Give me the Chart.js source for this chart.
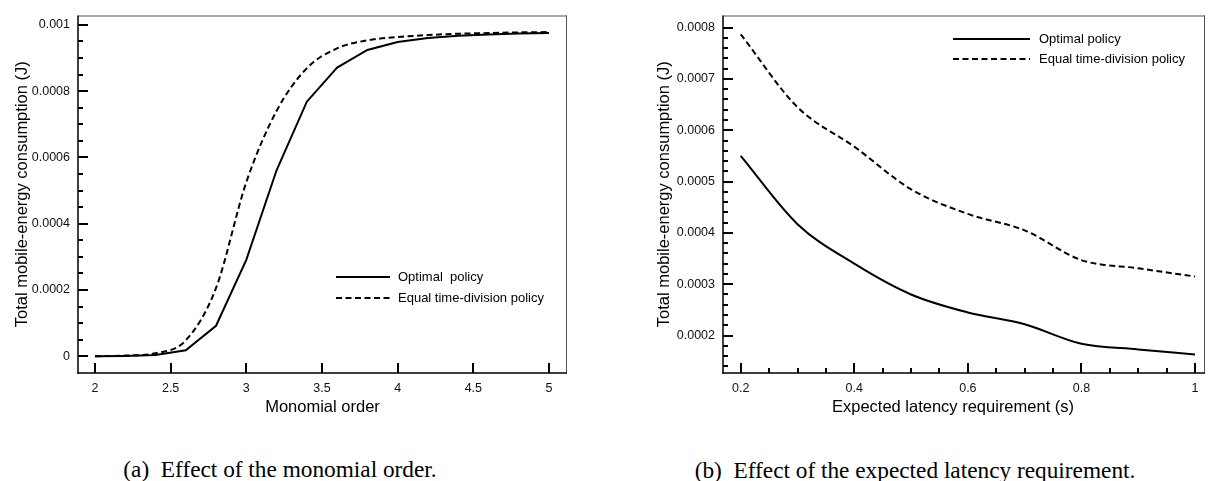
<!DOCTYPE html>
<html>
<head>
<meta charset="utf-8">
<script src="https://cdn.jsdelivr.net/npm/chart.js@4.4.1/dist/chart.umd.min.js"></script>
<style>
  body { margin: 0; background: #fff; }
  #wrap { position: relative; width: 1208px; height: 481px; overflow: hidden; background: #fff; }
  canvas { position: absolute; top: 0; }
  .cap { position: absolute; font-family: "Liberation Serif", "Times New Roman", serif; font-size: 23.3px; color: #000; white-space: pre; transform: translate(-50%, -50%); }
</style>
</head>
<body>
<div id="wrap">
  <canvas id="chartA" width="620" height="430" style="left:0px"></canvas>
  <canvas id="chartB" width="588" height="430" style="left:620px"></canvas>
  <div class="cap" style="left:280px; top:469px">(a)  Effect of the monomial order.</div>
  <div class="cap" style="left:915px; top:470px">(b)  Effect of the expected latency requirement.</div>
</div>
<script>
// --- Datos (a): orden del monomio ---
const ordenMonomio = [2, 2.2, 2.4, 2.6, 2.8, 3.0, 3.2, 3.4, 3.6, 3.8, 4.0, 4.2, 4.4, 4.6, 4.8, 5.0];
const optimaA = [0, 0.000001, 0.000004, 0.000018, 0.000092, 0.000291, 0.000561, 0.000768, 0.000871, 0.000924, 0.000948, 0.00096, 0.000967, 0.000971, 0.000974, 0.000975];
const igualA  = [0, 0.000002, 0.000009, 0.000048, 0.000206, 0.000525, 0.00074, 0.000869, 0.000929, 0.000953, 0.000963, 0.000969, 0.000973, 0.000975, 0.000977, 0.000978];
const xTicksA = [2, 2.5, 3, 3.5, 4, 4.5, 5];
const xLabelsA = ['2', '2.5', '3', '3.5', '4', '4.5', '5'];
const yTicksA = [0, 0.0002, 0.0004, 0.0006, 0.0008, 0.001];
const yLabelsA = ['0', '0.0002', '0.0004', '0.0006', '0.0008', '0.001'];

// --- Datos (b): latencia esperada ---
const latencia = [0.2, 0.3, 0.4, 0.5, 0.6, 0.7, 0.8, 0.9, 1.0];
const optimaB = [0.00055, 0.000417, 0.00034, 0.00028, 0.000245, 0.000222, 0.000184, 0.000173, 0.000163];
const igualB  = [0.000787, 0.000645, 0.000568, 0.000485, 0.000437, 0.000405, 0.000347, 0.000331, 0.000315];
const xTicksB = [0.2, 0.4, 0.6, 0.8, 1];
const xLabelsB = ['0.2', '0.4', '0.6', '0.8', '1'];
const yTicksB = [0.0002, 0.0003, 0.0004, 0.0005, 0.0006, 0.0007, 0.0008];
const yLabelsB = ['0.0002', '0.0003', '0.0004', '0.0005', '0.0006', '0.0007', '0.0008'];

const yTitulo = 'Total mobile-energy consumption (J)';
const FUENTE = "'Liberation Sans', Arial, Helvetica, sans-serif";

// Genera ticks menores entre min y max con un paso dado
function ticksMenores(min, max, paso) {
    const out = [];
    for (let v = min; v <= max + paso / 1000; v += paso) out.push(+v.toFixed(8));
    return out;
}

function esMayor(valor, mayores) {
    return mayores.some(m => Math.abs(m - valor) < 1e-9);
}

function etiqueta(valor, mayores, etiquetas) {
    const i = mayores.findIndex(m => Math.abs(m - valor) < 1e-9);
    return i >= 0 ? etiquetas[i] : '';
}

// Plugin: caja, ticks hacia adentro, títulos de ejes y leyenda
const marco = {
    id: 'marco',
    afterDraw(chart, args, o) {
        const { ctx, chartArea: a, scales } = chart;
        ctx.save();
        ctx.setLineDash([]);
        // borde superior y derecho (gris)
        ctx.fillStyle = '#555';
        ctx.fillRect(a.left, a.top, a.right - a.left, 1);
        ctx.fillRect(a.right - 1, a.top, 1, a.bottom - a.top);
        // ejes izquierdo e inferior
        ctx.fillStyle = '#000';
        ctx.fillRect(a.left - 0.75, a.top, 1.5, a.bottom - a.top + 0.75);
        ctx.fillRect(a.left - 0.75, a.bottom - 0.75, a.right - a.left + 0.75, 1.5);

        // ticks hacia adentro (mayores largos, menores cortos)
        ctx.fillStyle = '#000';
        o.ticksX.forEach(v => {
            const p = Math.round(scales.x.getPixelForValue(v));
            const len = esMayor(v, o.mayoresX) ? 10 : 5;
            ctx.fillRect(p - 1, a.bottom - len, 2, len);
        });
        o.ticksY.forEach(v => {
            const p = Math.round(scales.y.getPixelForValue(v));
            const len = esMayor(v, o.mayoresY) ? 10 : 5;
            ctx.fillRect(a.left, p - 1, len, 2);
        });

        // títulos de ejes
        ctx.fillStyle = '#000';
        ctx.font = `16.5px ${FUENTE}`;
        ctx.textAlign = 'center';
        ctx.textBaseline = 'middle';
        ctx.fillText(o.xTitulo, (a.left + a.right) / 2 + o.xTituloDx, o.xTituloY);
        ctx.save();
        ctx.translate(o.yTituloX, (a.top + a.bottom) / 2);
        ctx.rotate(-Math.PI / 2);
        ctx.fillText(yTitulo, 0, 0);
        ctx.restore();

        // leyenda
        const L = o.leyenda;
        ctx.font = `13px ${FUENTE}`;
        ctx.textAlign = 'left';
        chart.data.datasets.forEach((ds, i) => {
            const y = L.y + i * L.dy;
            ctx.strokeStyle = '#000';
            ctx.lineWidth = 2;
            ctx.setLineDash(ds.borderDash || []);
            ctx.beginPath();
            ctx.moveTo(L.x1, y);
            ctx.lineTo(L.x2, y);
            ctx.stroke();
            ctx.setLineDash([]);
            ctx.fillText(L.textos[i], L.xt, y);
        });
        ctx.restore();
    }
};

function crearGrafica(id, xs, serieOpt, serieIgual, esc, extra) {
    const ejeX = {
        type: 'linear', min: esc.xmin, max: esc.xmax,
        grid: { display: false, drawTicks: false },
        border: { display: false },
        afterBuildTicks: s => { s.ticks = esc.xVals.map(v => ({ value: v })); },
        afterFit: s => { s.height = 57; },
        ticks: {
            autoSkip: false, maxRotation: 0, padding: 8, color: '#111',
            font: { family: FUENTE, size: 12.5 },
            callback: v => etiqueta(v, esc.xMay, esc.xEtq)
        }
    };
    const ejeY = {
        type: 'linear', min: esc.ymin, max: esc.ymax,
        grid: { display: false, drawTicks: false },
        border: { display: false },
        afterBuildTicks: s => { s.ticks = esc.yVals.map(v => ({ value: v })); },
        afterFit: s => { s.width = esc.yAncho; },
        ticks: {
            autoSkip: false, padding: 8, color: '#111',
            font: { family: FUENTE, size: 12.5 },
            callback: v => etiqueta(v, esc.yMay, esc.yEtq)
        }
    };
    const marcoOpts = Object.assign({
        ticksX: esc.xVals, ticksY: esc.yVals, mayoresX: esc.xMay, mayoresY: esc.yMay
    }, extra.marco);
    return new Chart(document.getElementById(id).getContext('2d'), {
        type: 'line',
        data: {
            datasets: [
                {
                    label: 'Optimal policy',
                    data: xs.map((x, i) => ({ x, y: serieOpt[i] })),
                    borderColor: '#000', borderWidth: 2, pointRadius: 0,
                    tension: 0, cubicInterpolationMode: extra.modoOpt
                },
                {
                    label: 'Equal time-division policy',
                    data: xs.map((x, i) => ({ x, y: serieIgual[i] })),
                    borderColor: '#000', borderWidth: 2, pointRadius: 0,
                    borderDash: [6, 3.5],
                    cubicInterpolationMode: 'monotone'
                }
            ]
        },
        options: {
            responsive: false,
            animation: false,
            layout: { padding: { left: 0, top: 10, right: esc.derecha, bottom: 0 } },
            plugins: {
                legend: { display: false },
                tooltip: { enabled: false },
                marco: marcoOpts
            },
            scales: { x: ejeX, y: ejeY }
        },
        plugins: [marco]
    });
}

crearGrafica('chartA', ordenMonomio, optimaA, igualA, {
    xmin: 1.888, xmax: 5.119, ymin: -0.0000505, ymax: 0.001028,
    xVals: xTicksA, xMay: xTicksA, xEtq: xLabelsA,
    yVals: ticksMenores(0, 0.001, 0.00005), yMay: yTicksA, yEtq: yLabelsA,
    yAncho: 78, derecha: 53
}, {
    modoOpt: 'default',
    marco: {
        xTitulo: 'Monomial order', xTituloY: 407, xTituloDx: 0, yTituloX: 22,
        leyenda: { x1: 336, x2: 390, xt: 398, y: 277, dy: 21, textos: ['Optimal  policy', 'Equal time-division policy'] }
    }
});

crearGrafica('chartB', latencia, optimaB, igualB, {
    xmin: 0.1688, xmax: 1.0176, ymin: 0.000127, ymax: 0.0008236,
    xVals: ticksMenores(0.2, 1, 0.05), xMay: xTicksB, xEtq: xLabelsB,
    yVals: ticksMenores(0.00014, 0.0008, 0.00002), yMay: yTicksB, yEtq: yLabelsB,
    yAncho: 103, derecha: 3
}, {
    modoOpt: 'monotone',
    marco: {
        xTitulo: 'Expected latency requirement (s)', xTituloY: 407, xTituloDx: -11, yTituloX: 44,
        leyenda: { x1: 333, x2: 410, xt: 419, y: 39, dy: 20, textos: ['Optimal policy', 'Equal time-division policy'] }
    }
});
</script>
</body>
</html>
